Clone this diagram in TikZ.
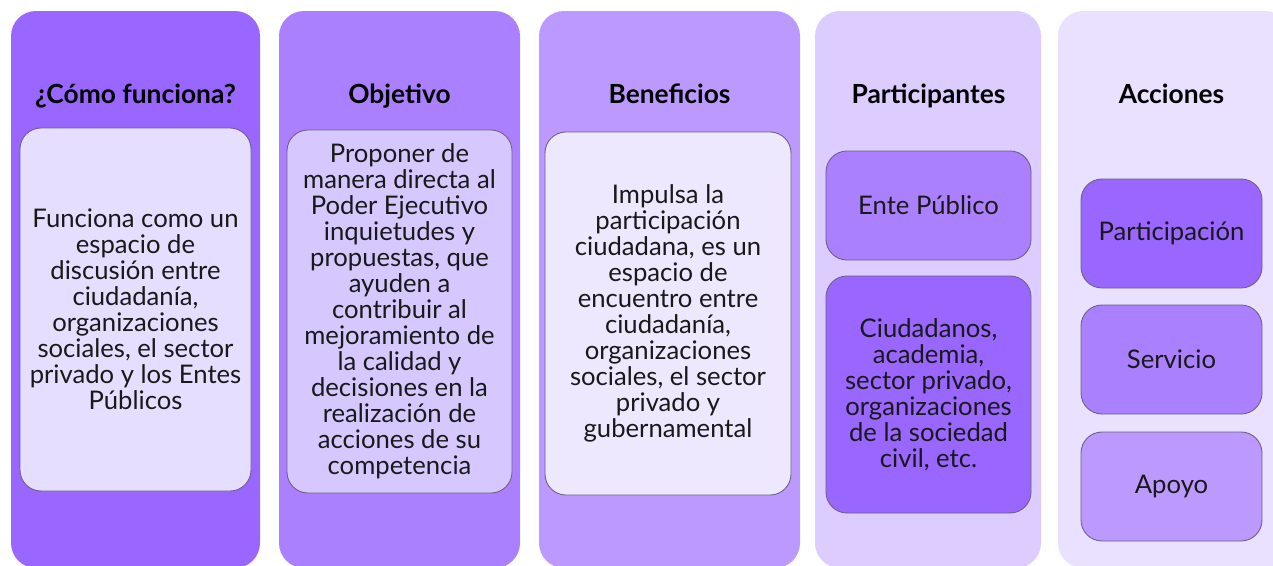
\documentclass[tikz,border=0pt]{standalone}
\usepackage{fontspec}
\setmainfont{Lato}
\usetikzlibrary{positioning}

\definecolor{lilaA}{HTML}{9966FF}
\definecolor{lilaB}{HTML}{AA80FF}
\definecolor{lilaC}{HTML}{BB99FF}
\definecolor{lilaD}{HTML}{DDCCFF}
\definecolor{lilaE}{HTML}{E9E1FF}
\definecolor{pastelA}{HTML}{E6DEFF}
\definecolor{pastelB}{HTML}{D6C8FF}
\definecolor{pastelC}{HTML}{EEE8FF}
\definecolor{borde}{HTML}{6E6085}

\tikzset{
    columna/.style={rounded corners=0.5cm, draw=none},
    titulo/.style={font=\fontsize{15}{18}\selectfont\bfseries, text=black,
        text height=11pt, text depth=3pt},
    caja/.style={draw=borde, line width=0.5pt, rounded corners=0.42cm, align=center,
        font=\fontsize{14.6}{14.8}\selectfont, text=black!90, inner sep=0pt},
}

\begin{document}
\begin{tikzpicture}[line cap=round,line join=round,x=0.02cm,y=-0.02cm]

    \useasboundingbox (0,0) rectangle (1273,565);
    \clip (0,0) rectangle (1273,565);

    % columnas
    \fill[columna, lilaA] (11,11) rectangle (260,568);
    \fill[columna, lilaB] (279,11) rectangle (520,568);
    \fill[columna, lilaC] (539,11) rectangle (800,568);
    \fill[columna, lilaD] (815,11) rectangle (1041,568);
    \fill[columna, lilaE] (1058,11) rectangle (1290,568);

    % titulos
    \node[titulo] (T1) at (135.5,96) {¿Cómo funciona?};
    \node[titulo] (T2) at (399.5,96) {Objetivo};
    \node[titulo] (T3) at (669.5,96) {Beneficios};
    \node[titulo] (T4) at (928.5,96) {Participantes};
    \node[titulo] (T5) at (1171.5,96) {Acciones};

    % cajas
    \node[caja, fill=pastelA, minimum width=231*0.02cm, minimum height=363*0.02cm] (C1) at (135.5,309.5)
        {Funciona como un\\espacio de\\discusión entre\\ciudadanía,\\organizaciones\\sociales, el sector\\privado y los Entes\\Públicos};
    \node[caja, fill=pastelB, minimum width=225*0.02cm, minimum height=363*0.02cm] (C2) at (399.5,311.5)
        {Proponer de\\manera directa al\\Poder Ejecutivo\\inquietudes y\\propuestas, que\\ayuden a\\contribuir al\\mejoramiento de\\la calidad y\\decisiones en la\\realización de\\acciones de su\\competencia};
    \node[caja, fill=pastelC, minimum width=246*0.02cm, minimum height=363*0.02cm] (C3) at (668,313.5)
        {Impulsa la\\participación\\ciudadana, es un\\espacio de\\encuentro entre\\ciudadanía,\\organizaciones\\sociales, el sector\\privado y\\gubernamental};

    \node[caja, fill=lilaB, minimum width=205*0.02cm, minimum height=109*0.02cm] (P1) at (928.5,205.5) {Ente Público};
    \node[caja, fill=lilaA, minimum width=205*0.02cm, minimum height=237*0.02cm] (P2) at (928.5,394.5)
        {Ciudadanos,\\academia,\\sector privado,\\organizaciones\\de la sociedad\\civil, etc.};

    \node[caja, fill=lilaA, minimum width=181*0.02cm, minimum height=109*0.02cm] (A1) at (1171.5,233.5) {Participación};
    \node[caja, fill=lilaB, minimum width=181*0.02cm, minimum height=109*0.02cm] (A2) at (1171.5,359.5) {Servicio};
    \node[caja, fill=lilaC, minimum width=181*0.02cm, minimum height=109*0.02cm] (A3) at (1171.5,486.5) {Apoyo};

\end{tikzpicture}
\end{document}
